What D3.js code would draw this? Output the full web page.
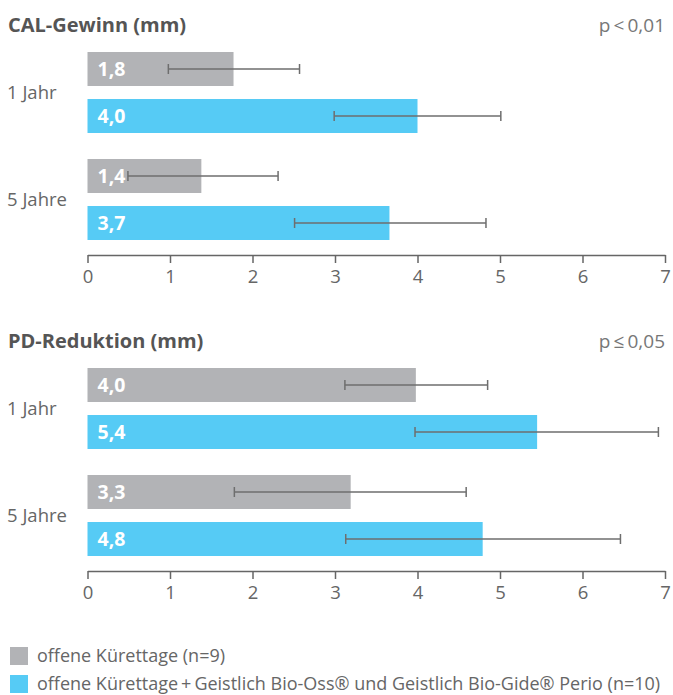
<!DOCTYPE html>
<html>
<head>
<meta charset="utf-8">
<script src="https://cdn.jsdelivr.net/npm/d3@7"></script>
<style>
  body { margin: 0; background: #fff; }
  text { font-family: "Open Sans", "Noto Sans", sans-serif; }
</style>
</head>
<body>
<svg id="chart"></svg>
<script>
// data
const groups = ["1 Jahr", "5 Jahre"];
const seriesNames = ["offene Kürettage (n=9)", "offene Kürettage\u2009+\u2009Geistlich Bio-Oss® und Geistlich Bio-Gide® Perio (n=10)"];
const seriesColors = ["#b2b3b6", "#56cbf5"];
const tickValues = [0, 1, 2, 3, 4, 5, 6, 7];

const calTitle = "CAL-Gewinn (mm)";
const calP = "p\u2009<\u20090,01";
const calMeans = [[1.77, 1.38], [4.0, 3.66]];        // [series][group]
const calLabels = [["1,8", "1,4"], ["4,0", "3,7"]];
const calLow = [[0.98, 0.49], [2.99, 2.51]];
const calHigh = [[2.57, 2.31], [5.01, 4.83]];

const pdTitle = "PD-Reduktion (mm)";
const pdP = "p\u2009≤\u20090,05";
const pdMeans = [[3.98, 3.19], [5.45, 4.79]];
const pdLabels = [["4,0", "3,3"], ["5,4", "4,8"]];
const pdLow = [[3.12, 1.78], [3.97, 3.13]];
const pdHigh = [[4.85, 4.59], [6.92, 6.46]];

const width = 673, height = 695;
const svg = d3.select("#chart").attr("width", width).attr("height", height);

const x = d3.scaleLinear().domain([0, 7]).range([87.5, 665]);

const yGroup = d3.scaleBand()
    .domain(groups)
    .range([52, 240])
    .paddingInner(0.243)
    .paddingOuter(0);

const ySeries = d3.scaleBand()
    .domain([0, 1])
    .range([0, yGroup.bandwidth()])
    .paddingInner(0.277)
    .paddingOuter(0);

function drawPanel(offsetY, title, pText, means, labels, low, high) {
    const g = svg.append("g").attr("transform", "translate(0," + offsetY + ")");

    g.append("text")
        .attr("x", 8).attr("y", 32)
        .attr("font-size", 20).attr("font-weight", "bold")
        .attr("fill", "#555")
        .text(title);

    g.append("text")
        .attr("x", 665).attr("y", 32)
        .attr("text-anchor", "end")
        .attr("font-size", 19).attr("fill", "#777")
        .text(pText);

    groups.forEach((grp, gi) => {
        g.append("text")
            .attr("x", 7)
            .attr("y", yGroup(grp) + yGroup.bandwidth() / 2)
            .attr("dy", "0.35em")
            .attr("font-size", 18.5).attr("fill", "#666")
            .text(grp);

        [0, 1].forEach(si => {
            const y0 = yGroup(grp) + ySeries(si);
            const h = ySeries.bandwidth();
            g.append("rect")
                .attr("x", x(0)).attr("y", y0)
                .attr("width", x(means[si][gi]) - x(0))
                .attr("height", h)
                .attr("fill", seriesColors[si]);

            g.append("text")
                .attr("x", x(0) + 10)
                .attr("y", y0 + h / 2)
                .attr("dy", "0.36em")
                .attr("font-size", 19.5).attr("font-weight", "bold")
                .attr("fill", "#fff")
                .text(labels[si][gi]);

            const ym = y0 + h / 2;
            g.append("line")
                .attr("x1", x(low[si][gi])).attr("x2", x(high[si][gi]))
                .attr("y1", ym).attr("y2", ym)
                .attr("stroke", "#6e6e6e").attr("stroke-width", 1.5);
            [low[si][gi], high[si][gi]].forEach(v => {
                g.append("line")
                    .attr("x1", x(v)).attr("x2", x(v))
                    .attr("y1", ym - 5).attr("y2", ym + 5)
                    .attr("stroke", "#6e6e6e").attr("stroke-width", 1.5);
            });
        });
    });

    const axis = g.append("g")
        .attr("transform", "translate(0,255)")
        .call(d3.axisBottom(x).tickValues(tickValues).tickFormat(d3.format("d"))
            .tickSize(8).tickSizeOuter(0).tickPadding(7));
    axis.select(".domain").attr("stroke", "#666").attr("stroke-width", 1.5);
    axis.selectAll(".tick line").attr("stroke", "#666").attr("stroke-width", 1.5);
    axis.selectAll(".tick text")
        .attr("font-size", 18.5).attr("fill", "#666")
        .attr("font-family", "\"Open Sans\", sans-serif");
}

drawPanel(0, calTitle, calP, calMeans, calLabels, calLow, calHigh);
drawPanel(316, pdTitle, pdP, pdMeans, pdLabels, pdLow, pdHigh);

// legend
const legend = svg.append("g");
seriesNames.forEach((name, i) => {
    const ly = 647 + i * 28;
    legend.append("rect")
        .attr("x", 10).attr("y", ly)
        .attr("width", 18).attr("height", 18)
        .attr("fill", seriesColors[i]);
    legend.append("text")
        .attr("x", 37).attr("y", ly + 9)
        .attr("dy", "0.33em")
        .attr("font-size", 18).attr("fill", "#666")
        .text(name);
});
</script>
</body>
</html>
